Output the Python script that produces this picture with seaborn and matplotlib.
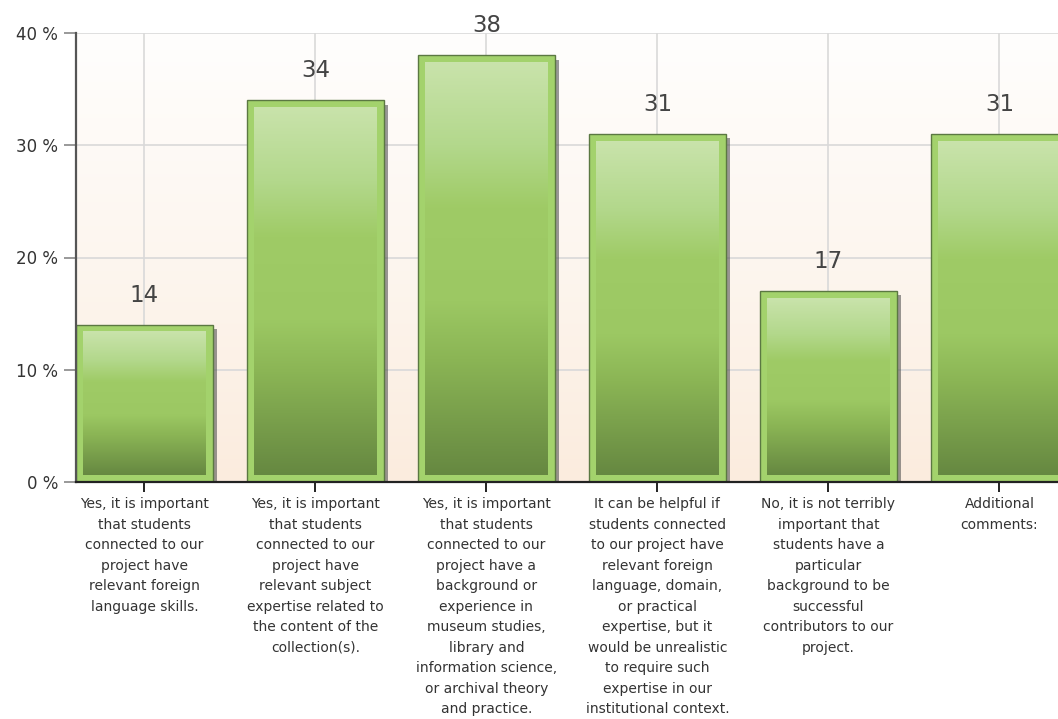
import numpy as np
import pandas as pd
import seaborn as sns
import matplotlib.pyplot as plt
from matplotlib import patheffects
from matplotlib.colors import LinearSegmentedColormap
from matplotlib.ticker import FuncFormatter

# --- Data ---
answers = [
    "Yes, it is important\nthat students\nconnected to our\nproject have\nrelevant foreign\nlanguage skills.",
    "Yes, it is important\nthat students\nconnected to our\nproject have\nrelevant subject\nexpertise related to\nthe content of the\ncollection(s).",
    "Yes, it is important\nthat students\nconnected to our\nproject have a\nbackground or\nexperience in\nmuseum studies,\nlibrary and\ninformation science,\nor archival theory\nand practice.",
    "It can be helpful if\nstudents connected\nto our project have\nrelevant foreign\nlanguage, domain,\nor practical\nexpertise, but it\nwould be unrealistic\nto require such\nexpertise in our\ninstitutional context.",
    "No, it is not terribly\nimportant that\nstudents have a\nparticular\nbackground to be\nsuccessful\ncontributors to our\nproject.",
    "Additional\ncomments:",
]
percent = [14, 34, 38, 31, 17, 31]
y_ticks = [0, 10, 20, 30, 40]

# --- Figure geometry (pixels of the 1058x719 output) ---
W, H = 1058, 719
AX_L, AX_T, AX_B = 76, 33, 482
CAT_PX = 171.0

fig = plt.figure(figsize=(W / 100, H / 100), dpi=100)
ax = fig.add_axes([AX_L / W, 1 - AX_B / H, (W - AX_L) / W, (AX_B - AX_T) / H])

df = pd.DataFrame({"answer": answers, "percent": percent})
sns.barplot(data=df, x="answer", y="percent", ax=ax, width=0.8, saturation=1,
            color="#a3d26c", edgecolor="#5b7842", linewidth=1.0, zorder=3)

x_max = -0.4 + (W - AX_L) / CAT_PX
y_max = 40

# background gradient: white at top, soft peach at bottom
bg_cmap = LinearSegmentedColormap.from_list("bg", ["#fbecde", "#fdf6ef", "#fffefd"])
ax.imshow(np.linspace(0, 1, 256).reshape(-1, 1), extent=(0, 1, 0, 1), origin="lower",
          transform=ax.transAxes, aspect="auto", cmap=bg_cmap, zorder=0)

# bar interior gradient
bar_cmap = LinearSegmentedColormap.from_list(
    "bar", [(0.0, "#668841"), (0.28, "#8bb555"), (0.42, "#9cc863"),
            (0.65, "#9fcb66"), (0.8, "#b3d88c"), (1.0, "#c9e3ab")])
px_x = x_max + 0.4
inset_x = 7 * px_x / (W - AX_L)
inset_y = 7 * y_max / (AX_B - AX_T)
grad = np.linspace(0, 1, 256).reshape(-1, 1)
for patch in ax.patches:
    x0, w, h = patch.get_x(), patch.get_width(), patch.get_height()
    ax.imshow(grad, extent=(x0 + inset_x, x0 + w - inset_x, inset_y, h - inset_y),
              origin="lower", aspect="auto", cmap=bar_cmap, zorder=4)
    patch.set_path_effects([
        patheffects.SimplePatchShadow(offset=(3, -3), shadow_rgbFace="#555555", alpha=0.6),
        patheffects.Normal(),
    ])

ax.bar_label(ax.containers[0], fmt="%d", padding=13, fontsize=16.5, color="#444444", zorder=5)

ax.set_xlim(-0.4, x_max)
ax.set_ylim(0, y_max)
ax.set_yticks(y_ticks)
ax.yaxis.set_major_formatter(FuncFormatter(lambda v, p: f"{v:.0f} %"))

ax.grid(True, color="#d9d9d9", linewidth=1.2)
ax.set_axisbelow(True)
for g in ax.get_xgridlines() + ax.get_ygridlines():
    g.set_zorder(1)

ax.set_xlabel("")
ax.set_ylabel("")
for side in ["top", "right"]:
    ax.spines[side].set_visible(False)
ax.spines["left"].set_color("#555555")
ax.spines["left"].set_linewidth(1.6)
ax.spines["bottom"].set_color("#222222")
ax.spines["bottom"].set_linewidth(1.6)
ax.spines["left"].set_zorder(6)
ax.spines["bottom"].set_zorder(6)

ax.tick_params(axis="y", length=9, width=1.4, color="#999999", labelsize=12,
               labelcolor="#333333", pad=4)
ax.tick_params(axis="x", length=7, width=1.4, color="#222222", labelsize=10,
               labelcolor="#333333", pad=4)
for lbl in ax.get_xticklabels():
    lbl.set_linespacing(1.59)
    lbl.set_verticalalignment("top")
    lbl.set_horizontalalignment("center")

fig.savefig("out.png", dpi=100)
